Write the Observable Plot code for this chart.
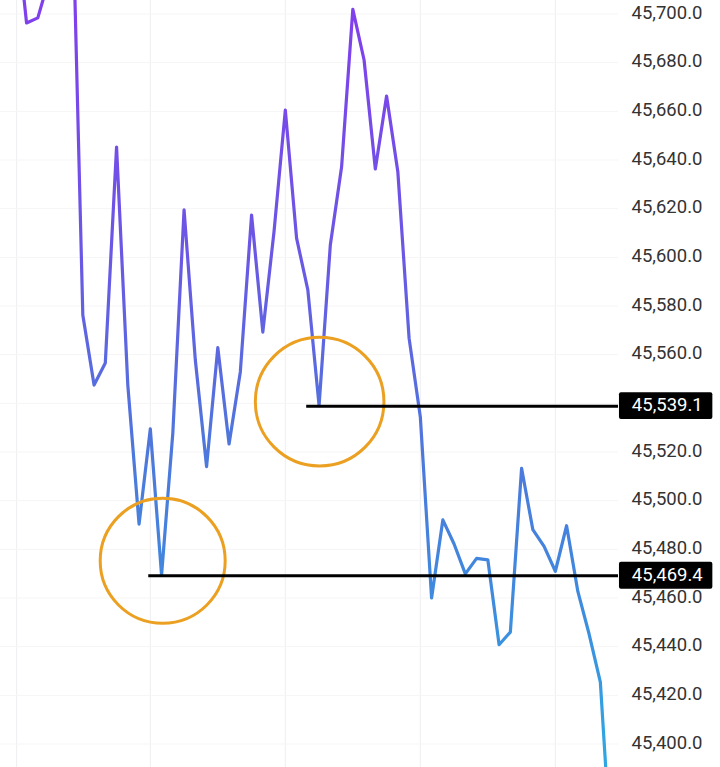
<!DOCTYPE html>
<html>
<head>
<meta charset="utf-8">
<script src="https://cdn.jsdelivr.net/npm/d3@7"></script>
<script src="https://cdn.jsdelivr.net/npm/@observablehq/plot@0.6"></script>
<style>
html, body { margin: 0; padding: 0; background: #fff; }
svg { display: block; }
</style>
</head>
<body>
<div id="chart"></div>
<script>
const prices = [
  45740, 45696.3, 45698.4, 45714.4, 45740, 45762, 45576.3, 45547.5, 45556.6, 45645.3,
  45547.5, 45490.4, 45529.5, 45469.4, 45527.8, 45619.5, 45557.8, 45514, 45562.9, 45523.3,
  45552.9, 45617.4, 45569.3, 45610.8, 45660.5, 45607.9, 45586.6, 45539.1, 45605.1, 45637.1,
  45701.9, 45681.1, 45636.3, 45666.3, 45635.2, 45566.8, 45534.4, 45460, 45492.1, 45482.2,
  45469.9, 45476.3, 45475.7, 45440.8, 45446, 45513.3, 45488.1, 45481.2, 45471, 45489.7,
  45462.7, 45445.2, 45425.4, 45352.3
];
const timeTicks = [0.12, 12, 24, 36, 48];
const priceTicks = d3.range(45400, 45701, 20);
const hiddenTickLabel = 45540;
const levelPrices = [45469.4, 45539.1];
const levelStarts = [11.86, 25.9];
const circlePrices = [45475.3, 45540.7];
const circleTimes = [13.1, 27.05];
const circleRadii = [62.5, 64.3];
const gradientPrices = [45700, 45600, 45520, 45460, 45400];
const gradientColors = ["#8040ec", "#6a58e4", "#4d78dc", "#3f8ade", "#30a5e2"];

const series = prices.map((v, k) => ({k, v}));
const levels = levelPrices.map((v, i) => ({v, start: levelStarts[i]}));
const circles = circlePrices.map((v, i) => ({v, k: circleTimes[i], r: circleRadii[i]}));
const fmt = d3.format(",.1f");
const FONT = "Roboto, sans-serif";
const frameEnd = 53.614;
const tagStart = 53.7, tagEnd = 62.0, textStart = 54.8;

const gradientDefs = (index, scales) => {
  const g = d3.create("svg:g");
  const lg = g.append("defs").append("linearGradient")
    .attr("id", "priceGradient")
    .attr("gradientUnits", "userSpaceOnUse")
    .attr("x1", 0).attr("x2", 0)
    .attr("y1", scales.y(gradientPrices[0]))
    .attr("y2", scales.y(gradientPrices[gradientPrices.length - 1]));
  const top = scales.y(gradientPrices[0]);
  const span = scales.y(gradientPrices[gradientPrices.length - 1]) - top;
  gradientPrices.forEach((p, i) => {
    lg.append("stop")
      .attr("offset", (scales.y(p) - top) / span)
      .attr("stop-color", gradientColors[i]);
  });
  return g.node();
};

const chart = Plot.plot({
  width: 720,
  height: 767,
  marginLeft: 0,
  marginRight: 102,
  marginTop: 0,
  marginBottom: 0,
  style: {background: "#fff", fontFamily: FONT, overflow: "visible"},
  x: {domain: [-1.316, frameEnd], axis: null},
  y: {domain: [45390.35, 45705.55], axis: null},
  r: {type: "identity"},
  marks: [
    gradientDefs,
    Plot.gridX(timeTicks, {stroke: "#eeeef1", strokeOpacity: 1, strokeWidth: 1}),
    Plot.gridY([...priceTicks], {stroke: "#f5f5f6", strokeOpacity: 1, strokeWidth: 1}),
    Plot.axisY(priceTicks.filter(t => t !== hiddenTickLabel), {
      anchor: "right",
      tickSize: 0,
      tickPadding: 13,
      tickFormat: fmt,
      label: null,
      fontSize: 18.5,
      fill: "#333",
      dy: -1.3
    }),
    Plot.line(series, {
      x: "k", y: "v",
      stroke: "url(#priceGradient)",
      strokeWidth: 3.2,
      strokeLinejoin: "round",
      clip: true
    }),
    Plot.dot(circles, {
      x: "k", y: "v", r: "r",
      stroke: "#eba021", strokeWidth: 3, fill: "none"
    }),
    Plot.ruleY(levels, {
      y: "v", x1: "start", x2: () => frameEnd,
      stroke: "#000", strokeWidth: 3, dy: 0.6
    }),
    Plot.rect(levels, {
      x1: () => tagStart, x2: () => tagEnd,
      y1: d => d.v - 5.5, y2: d => d.v + 5.5,
      fill: "#000", rx: 2, dy: 0.6
    }),
    Plot.text(levels, {
      x: () => textStart, y: "v",
      text: d => fmt(d.v),
      textAnchor: "start",
      fill: "#fff",
      fontSize: 18.5,
      dy: -0.5
    })
  ]
});
document.getElementById("chart").appendChild(chart);
</script>
</body>
</html>
